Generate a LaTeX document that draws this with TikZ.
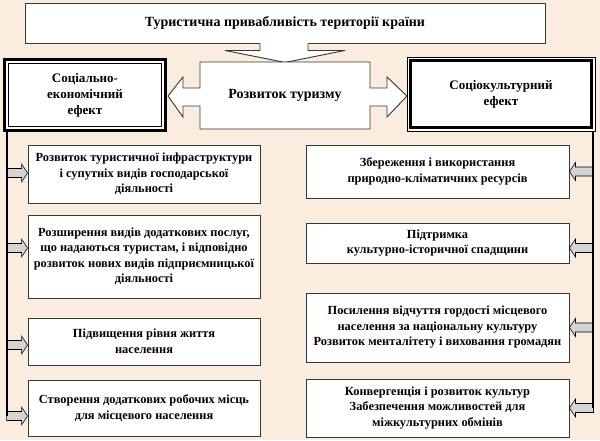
\documentclass[tikz,border=0pt]{standalone}
\usepackage{fontspec}
\setmainfont{Liberation Serif}
\usetikzlibrary{calc}
\definecolor{bg}{RGB}{250,236,222}
\definecolor{ln}{RGB}{55,55,55}
\definecolor{ag}{RGB}{212,212,212}
\newcommand\garR[1]{\draw[garrow] (#1) -- ++(-6,-9) -- ++(0,4.5) -- ++(-15,0) -- ++(0,9) -- ++(15,0) -- ++(0,4.5) -- cycle;}
\newcommand\garL[1]{\draw[garrow] (#1) -- ++(6,-9) -- ++(0,4.5) -- ++(18,0) -- ++(0,9) -- ++(-18,0) -- ++(0,4.5) -- cycle;}
\begin{document}
\begin{tikzpicture}[x=1pt,y=-1pt,
  box/.style={draw=ln,line width=0.9pt,fill=white,align=center,inner sep=0pt,
    font=\bfseries\fontsize{12.4}{15.5}\selectfont},
  effbox/.style={fill=white,align=center,inner sep=0pt,
    font=\bfseries\fontsize{13}{16}\selectfont},
  garrow/.style={draw=black,line width=0.6pt,fill=ag},
  bigarrow/.style={draw=ln,line width=0.9pt},
  vline/.style={draw=black,line width=1.8pt}]
\fill[bg] (0,0) rectangle (600,440);
\useasboundingbox (0,0) rectangle (600,440);

% title box
\node[box,minimum width=520pt,minimum height=40pt,font=\bfseries\fontsize{14}{17}\selectfont] (T) at (285,23) {Туристична привабливість території країни};

% down arrow from title to centre
\fill[white] ($(T.south)+(-25,-1)$) -- ++(0,8) -- ++(-35,0) -- ($(T.south)+(0,19)$) -- ($(T.south)+(60,7)$) -- ++(-37,0) -- ++(0,-8) -- cycle;
\draw[bigarrow] ($(T.south)+(-25,0)$) -- ++(0,7) -- ++(-35,0) -- ($(T.south)+(0,19)$) coordinate (ctop) -- ($(T.south)+(60,7)$) -- ++(-37,0) -- ++(0,-7);

% central block with two side arrows
\draw[bigarrow,fill=white] (200,62) -- (370,62) -- (370,88) -- (387,88) -- (387,77) -- (407,96) -- (387,117) -- (387,106) -- (370,106) -- (370,129) -- (200,129) -- (200,106) -- (183,106) -- (183,117) -- (168,96) -- (183,77) -- (183,88) -- (200,88) -- cycle;
\node[font=\bfseries\fontsize{14}{17}\selectfont] (C) at (285,95) {Розвиток туризму};

% effect boxes
\node[effbox,draw=black,line width=2.6pt,minimum width=161pt,minimum height=71pt] (LE) at (85,95) {Соціально-\\економічний\\ефект};
\draw[black,line width=0.7pt] ($(LE.north west)+(5,5)$) rectangle ($(LE.south east)+(-5,-5)$);
\node[effbox,draw=black,line width=0.7pt,minimum width=188pt,minimum height=74pt] (RE) at (501,94) {Соціокультурний\\ефект};
\draw[black,line width=2.6pt] ($(RE.north west)+(4,4)$) rectangle ($(RE.south east)+(-4,-4)$);

% left column
\node[box,minimum width=232pt,minimum height=58pt] (L1) at (144,174) {Розвиток туристичної інфраструктури\\і супутніх видів господарської\\діяльності};
\node[box,minimum width=232pt,minimum height=83pt] (L2) at (144,256.5) {Розширення видів додаткових послуг,\\що надаються туристам, і відповідно\\розвиток нових видів підприємницької\\діяльності};
\node[box,minimum width=232pt,minimum height=47pt] (L3) at (144,341.5) {Підвищення рівня життя\\населення};
\node[box,minimum width=232pt,minimum height=56pt] (L4) at (144,408) {Створення додаткових робочих місць\\для місцевого населення};

% right column
\node[box,minimum width=263pt,minimum height=53pt] (R1) at (437.5,171.5) {Збереження і використання\\природно-кліматичних ресурсів};
\node[box,minimum width=263pt,minimum height=40pt] (R2) at (437.5,243) {Підтримка\\культурно-історичної спадщини};
\node[box,minimum width=263pt,minimum height=69pt] (R3) at (437.5,327.5) {Посилення відчуття гордості місцевого\\населення за національну культуру\\Розвиток менталітету і виховання громадян};
\node[box,minimum width=263pt,minimum height=58pt] (R4) at (437.5,408) {Конвергенція і розвиток культур\\Забезпечення можливостей для\\міжкультурних обмінів};

% arrow tips
\path (L1.west) ++(0,-1) coordinate (a1);
\path (L2.west) ++(0,-8.5) coordinate (a2);
\path (L3.west) ++(0,3.5) coordinate (a3);
\path (L4.west) ++(0,8) coordinate (a4);
\path (R1.east) coordinate (b1);
\path (R2.east) ++(0,5) coordinate (b2);
\path (R3.east) coordinate (b3);
\path (R4.east) coordinate (b4);
\garR{a1}\garR{a2}\garR{a3}\garR{a4}
\garL{b1}\garL{b2}\garL{b3}\garL{b4}

% trunk lines
\coordinate (lt) at (7,132);
\coordinate (rt) at (593,131);
\draw[vline] (lt) -- (lt |- a4);
\draw[vline] (rt) -- (rt |- b4);
\end{tikzpicture}
\end{document}
